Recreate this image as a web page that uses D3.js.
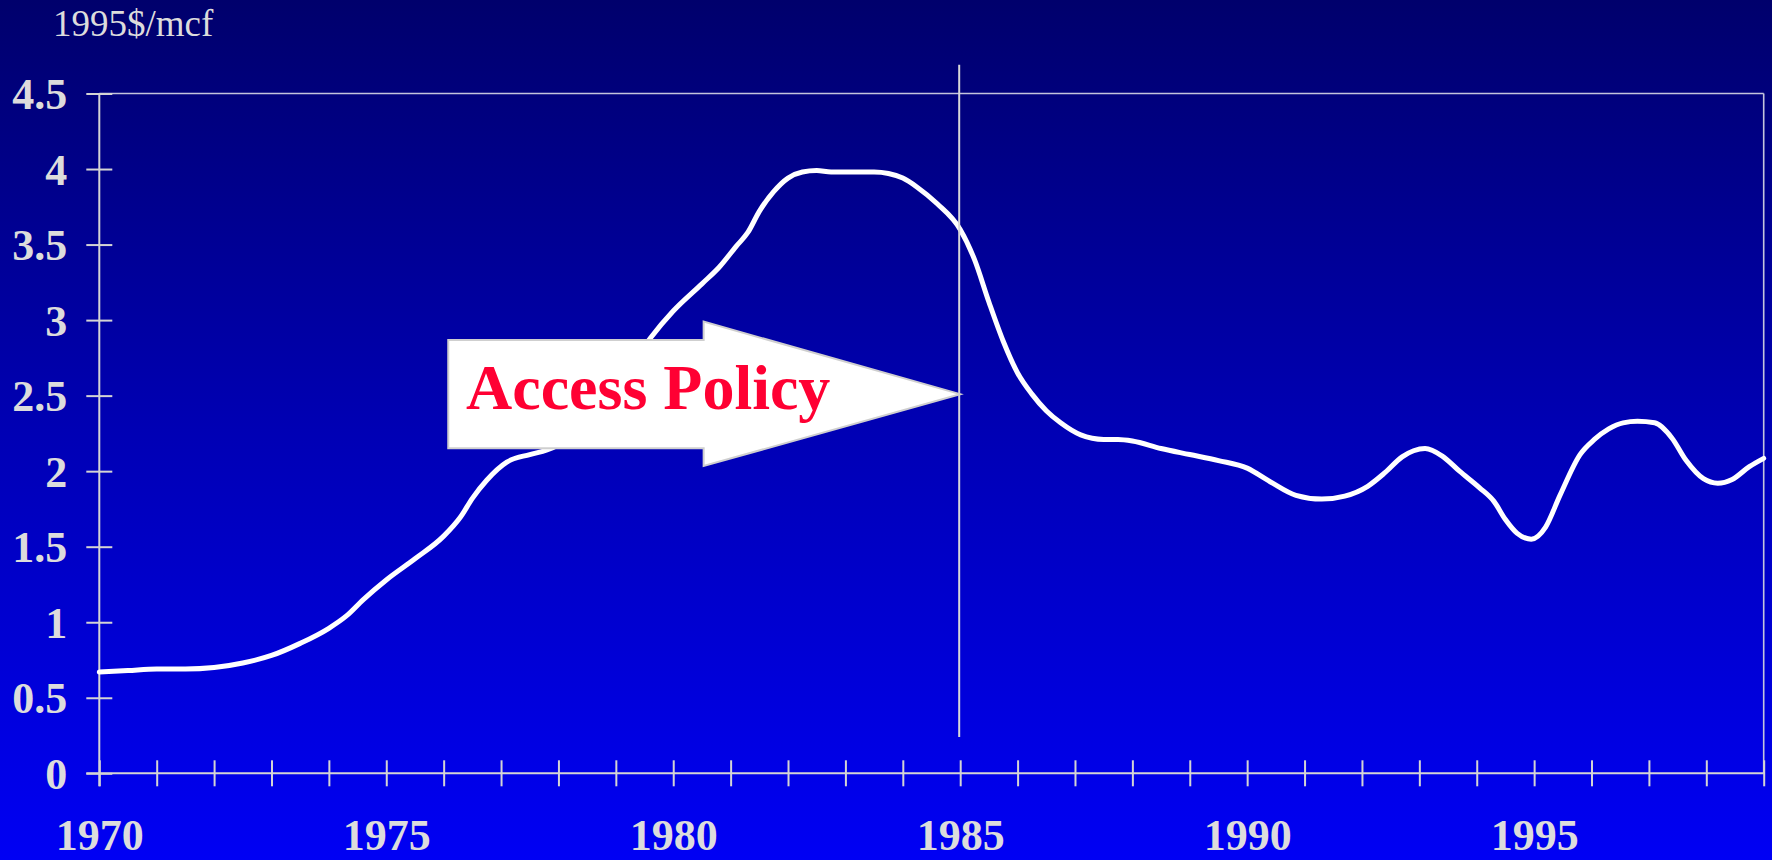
<!DOCTYPE html>
<html>
<head>
<meta charset="utf-8">
<script src="https://cdn.jsdelivr.net/npm/d3@7"></script>
<style>
  html, body { margin: 0; padding: 0; background: #000070; }
  svg { display: block; }
</style>
</head>
<body>
<svg id="chart" width="1772" height="860"></svg>
<script>
// ---- data ----
const years = [1970.0,1970.5,1971.0,1971.5,1972.0,1972.5,1973.0,1973.5,1974.0,1974.3,1974.6,1975.0,1975.5,1976.0,1976.3,1976.5,1976.75,1977.1,1977.5,1977.8,1978.2,1978.6,1979.0,1979.3,1979.6,1980.0,1980.5,1980.8,1981.1,1981.3,1981.5,1981.75,1982.0,1982.25,1982.5,1982.75,1983.0,1983.5,1983.75,1984.0,1984.25,1984.6,1985.0,1985.25,1985.5,1985.75,1986.0,1986.25,1986.5,1986.75,1987.1,1987.5,1987.75,1988.0,1988.5,1989.0,1989.5,1990.0,1990.4,1990.85,1991.3,1991.7,1992.1,1992.4,1992.7,1992.9,1993.1,1993.4,1993.7,1994.05,1994.3,1994.5,1994.7,1994.95,1995.2,1995.45,1995.8,1996.05,1996.3,1996.55,1996.8,1997.1,1997.4,1997.65,1997.95,1998.2,1998.45,1998.75,1999.0];
const prices = [0.67,0.68,0.69,0.69,0.70,0.73,0.78,0.86,0.96,1.04,1.15,1.28,1.42,1.57,1.70,1.82,1.94,2.06,2.11,2.14,2.22,2.36,2.57,2.72,2.88,3.06,3.24,3.35,3.49,3.58,3.72,3.85,3.94,3.98,3.99,3.98,3.98,3.98,3.97,3.94,3.88,3.77,3.60,3.40,3.12,2.86,2.65,2.51,2.40,2.32,2.24,2.21,2.21,2.20,2.15,2.11,2.07,2.02,1.93,1.84,1.815,1.835,1.90,1.99,2.095,2.135,2.15,2.10,2.00,1.89,1.80,1.68,1.59,1.55,1.63,1.84,2.11,2.21,2.28,2.32,2.33,2.32,2.22,2.07,1.95,1.92,1.945,2.03,2.085];
const yTicks = [0, 0.5, 1, 1.5, 2, 2.5, 3, 3.5, 4, 4.5];
const yTickLabels = ["0", "0.5", "1", "1.5", "2", "2.5", "3", "3.5", "4", "4.5"];
const xTicks = d3.range(1970, 2000, 1);
const xLabelYears = [1970, 1975, 1980, 1985, 1990, 1995];
const unitLabel = "1995$/mcf";
const policyYear = 1985;
const policyLabel = "Access Policy";

// ---- layout ----
const svg = d3.select("#chart");
const W = 1772, H = 860;
const m = { left: 99.3, right: W - 1763.7, top: 93.5, bottom: H - 773.3 };

const defs = svg.append("defs");
const grad = defs.append("linearGradient").attr("id", "bg").attr("x1", 0).attr("y1", 0).attr("x2", 0).attr("y2", 1);
grad.append("stop").attr("offset", "0%").attr("stop-color", "#00006c");
grad.append("stop").attr("offset", "50%").attr("stop-color", "#0000b4");
grad.append("stop").attr("offset", "100%").attr("stop-color", "#0000f4");
svg.append("rect").attr("width", W).attr("height", H).attr("fill", "url(#bg)");

const x = d3.scaleLinear().domain([1970, 1999]).range([m.left, W - m.right]);
const y = d3.scaleLinear().domain([0, 4.5]).range([H - m.bottom, m.top]);

const axisColor = "#d4d4d4";
const serif = "'Liberation Serif', 'Times New Roman', Times, 'DejaVu Serif', serif";

// frame (top and right)
svg.append("line").attr("x1", x(1970)).attr("x2", x(1999)).attr("y1", y(4.5)).attr("y2", y(4.5))
  .attr("stroke", "#c4c4dc").attr("stroke-width", 1.6);
svg.append("line").attr("x1", x(1999)).attr("x2", x(1999)).attr("y1", y(4.5)).attr("y2", y(0))
  .attr("stroke", "#c4c4dc").attr("stroke-width", 1.6);

// y axis
const yAxis = d3.axisLeft(y).tickValues(yTicks).tickSize(0).tickFormat((d, i) => yTickLabels[i]);
const gy = svg.append("g").attr("transform", `translate(${x(1970)},0)`).call(yAxis);
gy.select(".domain").remove();
gy.selectAll(".tick text").remove();
svg.append("line").attr("x1", x(1970)).attr("x2", x(1970)).attr("y1", y(4.5)).attr("y2", y(0) + 13)
  .attr("stroke", axisColor).attr("stroke-width", 2);
gy.selectAll(".tick").append("line").attr("x1", -13).attr("x2", 13).attr("stroke", axisColor).attr("stroke-width", 2);
gy.selectAll(".tick").append("text")
  .attr("x", -32).attr("dy", "0.34em").attr("text-anchor", "end")
  .attr("fill", "#dcdcdc").attr("font-family", serif).attr("font-weight", "bold").attr("font-size", 44)
  .text((d, i) => yTickLabels[i]);

// x axis
const xAxis = d3.axisBottom(x).tickValues(xTicks).tickSize(0).tickFormat("");
const gx = svg.append("g").attr("transform", `translate(0,${y(0)})`).call(xAxis);
gx.select(".domain").remove();
svg.append("line").attr("x1", x(1970) - 13).attr("x2", x(1999)).attr("y1", y(0)).attr("y2", y(0))
  .attr("stroke", axisColor).attr("stroke-width", 2);
gx.selectAll(".tick").append("line").attr("y1", -13).attr("y2", 13).attr("stroke", axisColor).attr("stroke-width", 2);
gx.selectAll(".tick").filter(d => xLabelYears.includes(d)).append("text")
  .attr("y", 77).attr("text-anchor", "middle")
  .attr("fill", "#dcdcdc").attr("font-family", serif).attr("font-weight", "bold").attr("font-size", 44)
  .text(d => d);

// unit label
svg.append("text").attr("x", 53).attr("y", 36)
  .attr("fill", "#dcdcdc").attr("font-family", serif).attr("font-size", 37)
  .text(unitLabel);

// price line
const data = years.map((yr, i) => ({ yr, v: prices[i] }));
const line = d3.line().x(d => x(d.yr)).y(d => y(d.v)).curve(d3.curveMonotoneX);
svg.append("path").datum(data).attr("d", line)
  .attr("fill", "none").attr("stroke", "#ffffff").attr("stroke-width", 5)
  .attr("stroke-linejoin", "round").attr("stroke-linecap", "round");

// policy reference line
svg.append("line")
  .attr("x1", x(policyYear) - 1).attr("x2", x(policyYear) - 1)
  .attr("y1", y(4.69)).attr("y2", y(0.24))
  .attr("stroke", "#d8d8d8").attr("stroke-width", 2);

// arrow annotation (in data units)
const arrowTip = [policyYear, 2.51];
const arrowBody = { left: 1976.08, neck: 1980.53, top: 2.868, bottom: 2.151, headTop: 2.99, headBottom: 2.034 };
const arrowPts = [
  [arrowBody.left, arrowBody.top],
  [arrowBody.neck, arrowBody.top],
  [arrowBody.neck, arrowBody.headTop],
  arrowTip,
  [arrowBody.neck, arrowBody.headBottom],
  [arrowBody.neck, arrowBody.bottom],
  [arrowBody.left, arrowBody.bottom]
];
svg.append("path")
  .attr("d", d3.line().x(d => x(d[0])).y(d => y(d[1]))(arrowPts) + "Z")
  .attr("fill", "#ffffff").attr("stroke", "#cfcfcf").attr("stroke-width", 2);

svg.append("text")
  .attr("x", x(1976.39)).attr("y", y(2.41))
  .attr("fill", "#ff0033").attr("font-family", serif).attr("font-weight", "bold").attr("font-size", 64)
  .text(policyLabel);
</script>
</body>
</html>
